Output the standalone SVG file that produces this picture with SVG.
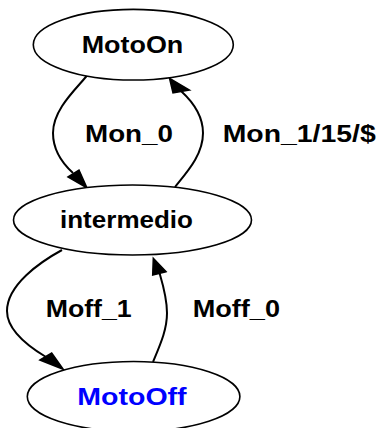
<svg xmlns="http://www.w3.org/2000/svg" width="382" height="428" viewBox="0 0 382 428">
  <style>
    .state { fill: #ffffff; stroke: #000000; stroke-width: 1.6; }
    .name { font-family: "Liberation Sans", Arial, sans-serif; font-weight: bold; font-size: 24px; fill: #000000; }
    .initial { fill: #0000ff; }
    .edge { fill: none; stroke: #000000; stroke-width: 2; }
    .head { fill: #000000; stroke: #000000; stroke-width: 1.5; stroke-linejoin: miter; }
    .label { font-family: "Liberation Sans", Arial, sans-serif; font-weight: bold; font-size: 24px; fill: #000000; }
  </style>
  <rect width="382" height="428" fill="#ffffff"/>

  <!-- transitions -->
  <g id="edges">
    <g id="e_MotoOn_intermedio">
      <path class="edge" d="M86.7,76 C75,90 53,110 53,133 C53,150 62,163 73,173"/>
      <polygon class="head" points="68,177 79,170 87,188"/>
      <text class="label" x="85" y="142" textLength="88" lengthAdjust="spacingAndGlyphs">Mon_0</text>
    </g>
    <g id="e_intermedio_MotoOn">
      <path class="edge" d="M175,187 C187,172 203,155 203,133 C203,115 193,102 181,91"/>
      <polygon class="head" points="189.5,90 173,93 169.5,78.3"/>
      <text class="label" x="222.7" y="142" textLength="153" lengthAdjust="spacingAndGlyphs">Mon_1/15/$</text>
    </g>
    <g id="e_intermedio_MotoOff">
      <path class="edge" d="M62,250 C40,262 7,285 7,311 C7,330 26,345 46,357"/>
      <polygon class="head" points="40,360 51.7,353 63.3,369.3"/>
      <text class="label" x="45.7" y="317" textLength="86" lengthAdjust="spacingAndGlyphs">Moff_1</text>
    </g>
    <g id="e_MotoOff_intermedio">
      <path class="edge" d="M153,362 C160,345 167,330 167,313 C167,298 163,285 159.5,273"/>
      <polygon class="head" points="166,271.7 152.7,275 153.3,258.3"/>
      <text class="label" x="192.7" y="317" textLength="87.3" lengthAdjust="spacingAndGlyphs">Moff_0</text>
    </g>
  </g>

  <!-- states -->
  <g id="MotoOn">
    <ellipse class="state" cx="133.3" cy="44.7" rx="100" ry="35.3"/>
    <text class="name" x="81.7" y="53.3" textLength="101.6" lengthAdjust="spacingAndGlyphs">MotoOn</text>
  </g>
  <g id="intermedio">
    <ellipse class="state" cx="132.5" cy="220" rx="119" ry="35"/>
    <text class="name" x="60" y="228.3" textLength="133" lengthAdjust="spacingAndGlyphs">intermedio</text>
  </g>
  <g id="MotoOff">
    <ellipse class="state" cx="133.6" cy="396.5" rx="106.3" ry="35"/>
    <text class="name initial" x="77.3" y="405" textLength="109.3" lengthAdjust="spacingAndGlyphs">MotoOff</text>
  </g>
</svg>
